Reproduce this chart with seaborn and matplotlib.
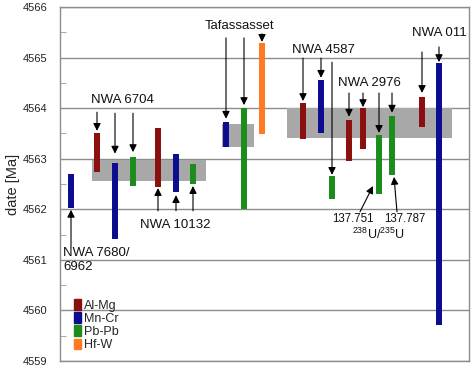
import pandas as pd
import matplotlib.pyplot as plt
import seaborn as sns
from matplotlib.patches import Patch
from matplotlib.ticker import MultipleLocator

sns.set_style('white')
plt.rcParams['font.family'] = ['Liberation Sans', 'DejaVu Sans']
plt.rcParams['mathtext.fontset'] = 'custom'
plt.rcParams['mathtext.rm'] = 'Liberation Sans'

# each bar: chronometer system and the age range it covers (Ma)
systems = ['Mn-Cr', 'Al-Mg', 'Mn-Cr', 'Pb-Pb', 'Al-Mg', 'Mn-Cr', 'Pb-Pb',
           'Mn-Cr', 'Pb-Pb', 'Hf-W',
           'Al-Mg', 'Mn-Cr', 'Pb-Pb', 'Al-Mg', 'Al-Mg', 'Pb-Pb', 'Pb-Pb',
           'Al-Mg', 'Mn-Cr']
age_top = [4562.70, 4563.50, 4562.92, 4563.04, 4563.60, 4563.10, 4562.90,
           4563.73, 4564.00, 4565.29,
           4564.10, 4564.56, 4562.65, 4563.77, 4564.00, 4563.47, 4563.85,
           4564.22, 4564.89]
age_bottom = [4562.02, 4562.74, 4561.42, 4562.46, 4562.45, 4562.34, 4562.50,
              4563.23, 4562.00, 4563.49,
              4563.39, 4563.50, 4562.20, 4562.96, 4563.19, 4562.30, 4562.68,
              4563.63, 4559.72]

# horizontal slot of each bar (no real x quantity)
bar_x = [71, 97, 115, 133, 158, 176, 193, 226, 244, 262,
         303, 321, 332, 349, 363, 379, 392, 422, 439]

# grey bands (combined ages)
band_x0 = [92, 222, 287]
band_x1 = [206, 254, 452]
band_lo = [4562.55, 4563.23, 4563.41]
band_hi = [4562.98, 4563.69, 4564.00]

hue_order = ['Al-Mg', 'Mn-Cr', 'Pb-Pb', 'Hf-W']
palette = {'Al-Mg': '#8b0f0f', 'Mn-Cr': '#0c0c8e', 'Pb-Pb': '#1c8c1c', 'Hf-W': '#ff7a22'}

labels = ['NWA 6704', 'NWA 10132', 'Tafassasset', 'NWA 4587', 'NWA 2976',
          'NWA 011', '137.751', '137.787', '$^{238}$U/$^{235}$U']
label_x = [122, 175, 240, 323, 369, 439, 353, 405, 378]
label_y = [4564.16, 4561.69, 4565.62, 4565.15, 4564.50, 4565.49, 4561.81, 4561.81, 4561.51]
label_size = [9.5, 9.5, 9.5, 9.5, 9.5, 9.5, 8.3, 8.3, 9]

# arrows: (x start, y start, x tip, y tip)
arrows = [(97, 4563.92, 97, 4563.55), (115, 4563.90, 115, 4563.10), (133, 4563.90, 133, 4563.13),
          (158, 4561.97, 158, 4562.42), (176, 4561.97, 176, 4562.28), (193, 4561.97, 193, 4562.46),
          (71, 4561.26, 71, 4561.99),
          (226, 4565.39, 226, 4563.79), (244, 4565.39, 244, 4564.06), (262, 4565.47, 262, 4565.31),
          (303, 4564.99, 303, 4564.14), (321, 4564.99, 321, 4564.60), (332, 4564.91, 332, 4562.68),
          (349, 4564.30, 349, 4563.83), (363, 4564.30, 363, 4564.02),
          (379, 4564.30, 379, 4563.51), (392, 4564.30, 392, 4563.91),
          (422, 4565.11, 422, 4564.30), (439, 4565.21, 439, 4564.91),
          (360, 4561.95, 373, 4562.46), (397, 4561.95, 394, 4562.64)]

rows = []
for i in range(len(bar_x)):
    rows.append({'bar': i, 'x': bar_x[i], 'date': age_top[i], 'system': systems[i]})
    rows.append({'bar': i, 'x': bar_x[i], 'date': age_bottom[i], 'system': systems[i]})
df = pd.DataFrame(rows)

fig = plt.figure(figsize=(4.73, 3.68), dpi=100)
ax = fig.add_axes([60 / 473, 7 / 368, 409 / 473, 354 / 368])

for x0, x1, lo, hi in zip(band_x0, band_x1, band_lo, band_hi):
    ax.fill_between([x0, x1], lo, hi, color='#a8a8a8', lw=0, zorder=1)

sns.lineplot(data=df, x='x', y='date', hue='system', hue_order=hue_order, palette=palette,
             units='bar', estimator=None, sort=False, linewidth=4.3, legend=False,
             solid_capstyle='butt', zorder=3, ax=ax)

for x0, y0, x1, y1 in arrows:
    ax.annotate('', xy=(x1, y1), xytext=(x0, y0),
                arrowprops=dict(arrowstyle='-|>', color='black', lw=0.8,
                                mutation_scale=11, shrinkA=0, shrinkB=0), zorder=4)

for t, x, y, s in zip(labels, label_x, label_y, label_size):
    ax.text(x, y, t, ha='center', va='center', fontsize=s, color='#111111', zorder=5)
ax.text(63, 4561.26, 'NWA 7680/\n6962', ha='left', va='top', fontsize=9.5,
        color='#111111', linespacing=1.2, zorder=5)

ax.set_xlim(60, 469)
ax.set_ylim(4559, 4566)
ax.set_xticks([])
ax.yaxis.set_major_locator(MultipleLocator(1))
ax.yaxis.set_minor_locator(MultipleLocator(0.5))
ax.tick_params(axis='y', which='major', length=0, pad=9, labelsize=8, labelcolor='#222222')
ax.tick_params(axis='y', which='minor', length=4, direction='in', color='#999999', left=True)
ax.yaxis.grid(True, color='#8c8c8c', lw=1)
ax.set_axisbelow(True)
for side in ['left', 'right', 'top', 'bottom']:
    ax.spines[side].set_color('#8c8c8c')
    ax.spines[side].set_linewidth(1)
ax.set_xlabel('')
ax.set_ylabel('date [Ma]', fontsize=10.5, labelpad=2)

handles = [Patch(color=palette[h], label=h) for h in hue_order]
ax.legend(handles=handles, loc='lower left', bbox_to_anchor=(0.035, 0.028), frameon=False,
          fontsize=9, handlelength=0.55, handleheight=0.9, handletextpad=0.25,
          labelspacing=0.05, borderaxespad=0, borderpad=0)

fig.savefig('out.png', dpi=100)
